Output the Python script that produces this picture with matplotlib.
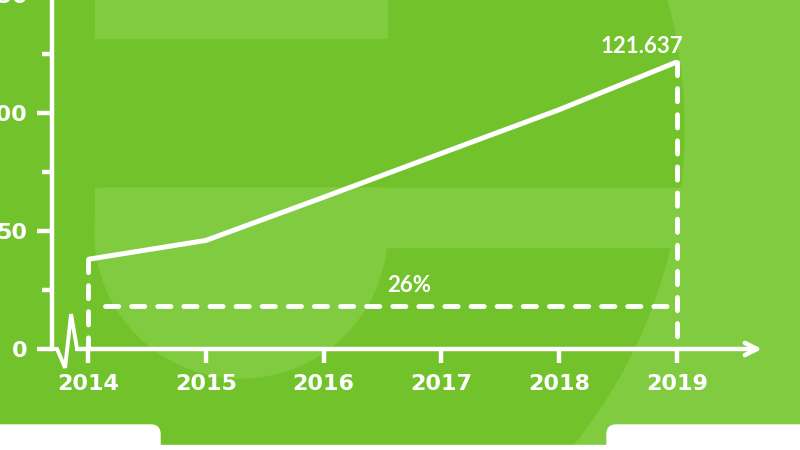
import numpy as np
import matplotlib
matplotlib.use("Agg")
import matplotlib.pyplot as plt
from matplotlib.patches import Rectangle, Circle, Polygon, FancyBboxPatch

years = [2014, 2015, 2016, 2017, 2018, 2019]
values = [38.0, 46.0, 64.3, 82.9, 101.4, 121.637]
y_major = [0, 50, 100, 150]
y_minor = [25, 75, 125]

DARK = "#72c22b"
LIGHT = "#80cb40"
WHITE = "white"

plt.rcParams["lines.scale_dashes"] = False

fig = plt.figure(figsize=(8, 4.5), dpi=100, facecolor=DARK)

# background decoration, in pixel coordinates
bg = fig.add_axes([0, 0, 1, 1])
bg.set_xlim(0, 800)
bg.set_ylim(450, 0)
bg.axis("off")
bg.add_patch(Rectangle((0, 0), 800, 450, color=LIGHT, zorder=0))
bg.add_patch(Circle((182, 130), 502, color=DARK, zorder=1))
bg.add_patch(Rectangle((95, -5), 292, 43, color=LIGHT, zorder=2))
bg.add_patch(Rectangle((95, 188), 705, 59, color=LIGHT, zorder=2))
t = np.linspace(0, 2 * np.pi, 400)
bowl = np.column_stack([241 + 146 * np.cos(t), np.maximum(232 + 146 * np.sin(t), 188)])
bg.add_patch(Polygon(bowl, closed=True, color=LIGHT, zorder=2))
bg.add_patch(Rectangle((0, 445), 800, 10, color=WHITE, zorder=3))
bg.add_patch(FancyBboxPatch((-20, 425), 180, 40, boxstyle="round,pad=0,rounding_size=9",
                            color=WHITE, zorder=3))
bg.add_patch(FancyBboxPatch((607, 425), 220, 40, boxstyle="round,pad=0,rounding_size=9",
                            color=WHITE, zorder=3))

# chart
ax = fig.add_axes([52 / 800, 101 / 450, 710 / 800, 354 / 450])
ax.patch.set_alpha(0)
x0, x1 = 2013.694, 2019.722
ax.set_xlim(x0, x1)
ax.set_ylim(0, 150)

for s in ["top", "right", "bottom"]:
    ax.spines[s].set_visible(False)
ax.spines["left"].set_color(WHITE)
ax.spines["left"].set_linewidth(3.2)

tick_font = dict(family="DejaVu Sans", weight="bold", size=16)
ax.set_xticks(years)
ax.set_xticklabels([str(y) for y in years], color=WHITE, fontdict=tick_font)
ax.set_yticks(y_major)
ax.set_yticklabels([str(v) for v in y_major], color=WHITE, fontdict=tick_font)
ax.set_yticks(y_minor, minor=True)
ax.tick_params(axis="x", length=10, width=3.2, color=WHITE, pad=8)
ax.tick_params(axis="y", which="major", length=11, width=3.2, color=WHITE, pad=6.5)
ax.tick_params(axis="y", which="minor", length=7, width=3.2, color=WHITE)

# x axis with break mark and arrow
brk_x = [x0, x0 + 0.043, x0 + 0.111, x0 + 0.162, x0 + 0.213]
brk_y = [0, 0, -8, 14.8, 0]
ax.plot(brk_x, brk_y, color=WHITE, lw=2.8, solid_joinstyle="miter", clip_on=False)
ax.annotate("", xy=(x1, 0), xytext=(brk_x[-1], 0), annotation_clip=False,
            arrowprops=dict(arrowstyle="->", lw=3.2, color=WHITE, mutation_scale=22,
                            shrinkA=0, shrinkB=0, capstyle="round"))

# data line
ax.plot(years, values, color=WHITE, lw=3.6, solid_capstyle="butt", clip_on=False, zorder=5)

dash = dict(color=WHITE, lw=3.5, dashes=(9.5, 9.3), dash_capstyle="round", clip_on=False)
ax.plot([years[0], years[0]], [values[0], 0], **dash)
ax.plot([years[-1], years[-1]], [values[-1], 0], **dash)
ax.plot([years[0] + 0.145, years[-1] - 0.08], [18.2, 18.2], **dash)

cagr = (values[-1] / values[0]) ** (1 / (len(years) - 1)) - 1
label_font = dict(family=["Lato", "DejaVu Sans"], weight="bold", size=16, color=WHITE)
ax.text(2016.73, 24.2, f"{cagr * 100:.0f}%", ha="center", va="baseline", **label_font)
ax.annotate(f"{values[-1]:g}", xy=(years[-1], values[-1]), xytext=(-25, 6.5),
            textcoords="offset points", ha="center", va="baseline",
            annotation_clip=False, **label_font)

fig.savefig("out.png", dpi=100, facecolor=DARK)
